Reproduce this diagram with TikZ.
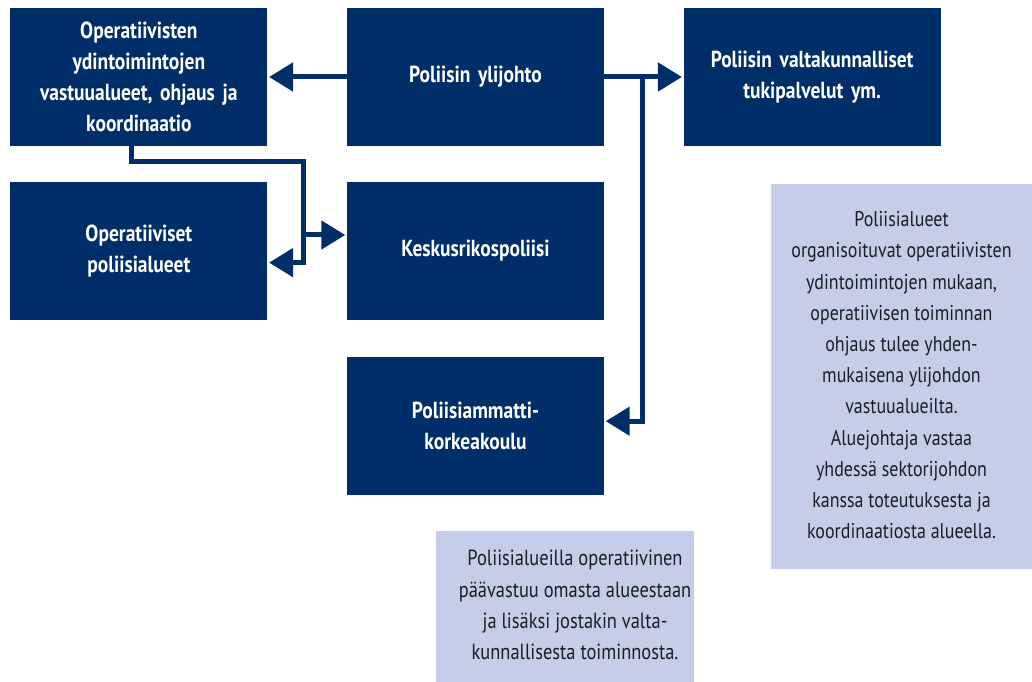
\documentclass[tikz,border=0pt]{standalone}
\usepackage{fontspec}
\setmainfont{PT Sans}[FakeStretch=0.84]
\usetikzlibrary{positioning,arrows.meta}
\definecolor{poliisinavy}{RGB}{0,46,104}
\definecolor{poliisivaalea}{RGB}{197,205,233}
\definecolor{tekstitumma}{RGB}{28,28,36}

\begin{document}
\begin{tikzpicture}[x=0.025cm,y=-0.025cm,
    box/.style={fill=poliisinavy,text=white,font=\fontsize{16.5}{22}\selectfont\bfseries,
      align=center,minimum width=6.425cm,minimum height=3.45cm,text width=6cm,inner sep=0pt},
    infobox/.style={fill=poliisivaalea,text=tekstitumma,font=\fontsize{15.2}{22.2}\selectfont,
      inner sep=0pt},
    ar/.style={-{Triangle[length=0.6cm,width=0.7cm]},line width=0.125cm,draw=poliisinavy,shorten >=1pt}]
  \useasboundingbox (0,0) rectangle (1032,682);
  \node[box] (ylijohto) at (475.5,77) {Poliisin ylijohto};
  \node[box,left=1.975cm of ylijohto] (ydin) {Operatiivisten\\ydintoimintojen\\vastuualueet, ohjaus ja\\koordinaatio};
  \node[box,right=1.975cm of ylijohto] (tuki) {Poliisin valtakunnalliset\\tukipalvelut ym.};
  \node[box,below=0.875cm of ylijohto] (keskus) {Keskusrikospoliisi};
  \node[box,below=0.875cm of ydin] (alueet) {Operatiiviset\\poliisialueet};
  \node[box,below=0.925cm of keskus] (amk) {Poliisiammatti-\\korkeakoulu};
  \node[infobox,minimum width=6.525cm,minimum height=9.625cm] (sektori) at (901.5,376.5)
    {\begin{tabular}{@{}c@{}}Poliisialueet\\organisoituvat operatiivisten\\ydintoimintojen mukaan,\\operatiivisen toiminnan\\ohjaus tulee yhden-\\mukaisena ylijohdon\\vastuualueilta.\\Aluejohtaja vastaa\\yhdessä sektorijohdon\\kanssa toteutuksesta ja\\koordinaatiosta alueella.\end{tabular}};
  \node[infobox,minimum width=6.45cm,minimum height=3.775cm,font=\fontsize{15.6}{22.2}\selectfont] (paavastuu) at (565,606.5)
    {\hspace*{0.5cm}\begin{tabular}{@{}c@{}}Poliisialueilla operatiivinen\\päävastuu omasta alueestaan\\ja lisäksi jostakin valta-\\kunnallisesta toiminnosta.\end{tabular}};
  % connectors
  \coordinate (haara) at (642,77);
  \coordinate (amkpiste) at ([yshift=0.125cm]amk.east);
  \coordinate (ydinala) at (131,146);
  \coordinate (mutka) at (303,162);
  \coordinate (haarak) at (303,235);
  \draw[ar] (ylijohto.west) -- (ydin.east);
  \draw[ar] (ylijohto.east) -- (tuki.west);
  \draw[ar] (haara) |- (amkpiste);
  \draw[ar] (ydinala) |- (mutka) |- ([yshift=-0.3cm]alueet.east);
  \draw[ar] (haarak) -- (haarak -| keskus.west);
\end{tikzpicture}
\end{document}
